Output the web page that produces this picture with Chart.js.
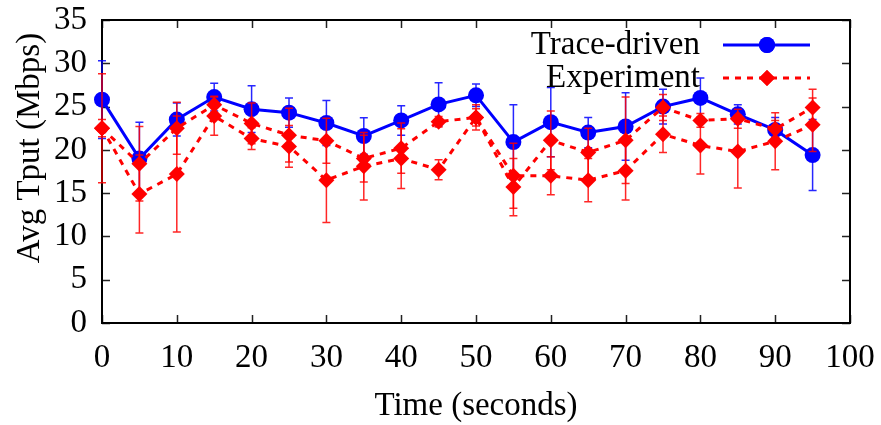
<!DOCTYPE html>
<html>
<head>
<meta charset="utf-8">
<script src="https://cdn.jsdelivr.net/npm/chart.js@4/dist/chart.umd.min.js"></script>
<style>
  html, body { margin: 0; padding: 0; background: #fff; }
  #wrap { width: 881px; height: 425px; }
</style>
</head>
<body>
<div id="wrap"><canvas id="c" width="881" height="425"></canvas></div>
<script>
// Sample times (seconds)
const times = [0, 5, 10, 15, 20, 25, 30, 35, 40, 45, 50, 55, 60, 65, 70, 75, 80, 85, 90, 95];

// Trace-driven throughput (Mbps) and its error half-widths
const traceDriven    = [25.8, 19.0, 23.5, 26.1, 24.7, 24.3, 23.1, 21.6, 23.4, 25.25, 26.3, 20.9, 23.2, 22.0, 22.7, 25.0, 26.0, 24.1, 22.3, 19.4];
const traceDrivenErr = [4.5, 4.2, 1.9, 1.6, 2.7, 1.7, 2.6, 2.1, 1.7, 2.5, 1.3, 4.3, 4.0, 1.75, 3.9, 2.0, 2.3, 1.1, 1.45, 4.1];

// Experiment runs (Mbps) and their error half-widths
const experimentA    = [22.5, 18.4, 22.5, 25.2, 23.05, 21.7, 21.05, 19.0, 20.2, 23.25, 23.75, 17.0, 17.0, 16.5, 17.6, 21.8, 20.5, 19.8, 21.0, 22.9];
const experimentAErr = [6.3, 4.3, 3.0, 1.0, 2.35, 3.1, 2.6, 2.7, 2.9, 0.6, 1.45, 3.75, 2.2, 2.5, 3.4, 2.1, 3.3, 4.2, 3.3, 3.1];
const experimentB    = [22.5, 14.9, 17.2, 23.9, 21.3, 20.4, 16.5, 18.1, 19.0, 17.7, 23.75, 15.7, 21.1, 19.7, 21.1, 24.9, 23.4, 23.6, 22.4, 24.9];
const experimentBErr = [1.0, 4.5, 6.7, 2.2, 1.25, 2.4, 4.9, 3.9, 3.45, 1.15, 1.0, 3.3, 3.4, 2.8, 5.0, 1.5, 0.8, 1.1, 1.0, 2.1];

// Axis ticks
const xTicks = [0, 10, 20, 30, 40, 50, 60, 70, 80, 90, 100];
const yTicks = [0, 5, 10, 15, 20, 25, 30, 35];

const FONT = '"Liberation Serif", "Times New Roman", Times, serif';
const FONT_SIZE = 33;
const BLUE = '#0000ff';
const RED = '#ff0000';

const toPoints = (vals) => vals.map((v, i) => ({ x: times[i], y: v }));

// Inward ticks on all four sides plus the box frame
const framePlugin = {
  id: 'frame',
  beforeDatasetsDraw(chart) {
    const { ctx, chartArea: a, scales: { x, y } } = chart;
    ctx.save();
    ctx.strokeStyle = '#222';
    ctx.lineWidth = 1.5;
    ctx.beginPath();
    xTicks.forEach(v => {
      const px = Math.round(x.getPixelForValue(v)) + 0.5;
      ctx.moveTo(px, a.bottom); ctx.lineTo(px, a.bottom - 8);
      ctx.moveTo(px, a.top); ctx.lineTo(px, a.top + 8);
    });
    yTicks.forEach(v => {
      const py = Math.round(y.getPixelForValue(v)) + 0.5;
      ctx.moveTo(a.left, py); ctx.lineTo(a.left + 8, py);
      ctx.moveTo(a.right, py); ctx.lineTo(a.right - 8, py);
    });
    ctx.stroke();
    ctx.strokeStyle = '#000';
    ctx.lineWidth = 2;
    ctx.strokeRect(a.left, a.top, a.right - a.left, a.bottom - a.top);
    ctx.restore();
  }
};

// Vertical error bars with caps, drawn just beneath each dataset's line
const errorBarPlugin = {
  id: 'errorBars',
  beforeDatasetDraw(chart, args) {
    const ds = chart.data.datasets[args.index];
    if (!ds.errors) return;
    const { ctx, scales: { x, y } } = chart;
    ctx.save();
    ctx.strokeStyle = ds.errorColor;
    ctx.lineWidth = 1.5;
    ctx.beginPath();
    ds.data.forEach((p, i) => {
      const e = ds.errors[i];
      const px = x.getPixelForValue(p.x);
      const top = y.getPixelForValue(p.y + e);
      const bot = y.getPixelForValue(p.y - e);
      ctx.moveTo(px, top); ctx.lineTo(px, bot);
      ctx.moveTo(px - 4, top); ctx.lineTo(px + 4, top);
      ctx.moveTo(px - 4, bot); ctx.lineTo(px + 4, bot);
    });
    ctx.stroke();
    ctx.restore();
  }
};

// Key in the upper right and the rotated y-axis title
const keyPlugin = {
  id: 'key',
  afterDraw(chart) {
    const { ctx } = chart;
    ctx.save();
    ctx.fillStyle = '#000';
    ctx.font = FONT_SIZE + 'px ' + FONT;
    ctx.textAlign = 'right';
    ctx.textBaseline = 'middle';

    const rows = [
      { label: 'Trace-driven', ds: chart.data.datasets[0], y: 45 },
      { label: 'Experiment', ds: chart.data.datasets[1], y: 78 }
    ];
    rows.forEach(r => {
      ctx.fillStyle = '#000';
      ctx.fillText(r.label, 700, r.y);
      ctx.strokeStyle = r.ds.borderColor;
      ctx.lineWidth = r.ds.borderWidth;
      ctx.setLineDash(r.ds.borderDash || []);
      ctx.beginPath();
      ctx.moveTo(723, r.y); ctx.lineTo(810, r.y);
      ctx.stroke();
      ctx.setLineDash([]);
      ctx.fillStyle = r.ds.pointBackgroundColor;
      Chart.helpers.drawPoint(ctx, {
        pointStyle: r.ds.pointStyle, radius: r.ds.pointRadius, rotation: 0, borderWidth: 0
      }, 767, r.y);
      ctx.fill();
    });

    ctx.translate(30, 148);
    ctx.rotate(-Math.PI / 2);
    ctx.textAlign = 'center';
    ctx.fillStyle = '#000';
    ctx.fillText('Avg Tput (Mbps)', 0, 0);
    ctx.restore();
  }
};

new Chart(document.getElementById('c'), {
  type: 'line',
  data: {
    datasets: [
      {
        label: 'Trace-driven',
        data: toPoints(traceDriven),
        errors: traceDrivenErr,
        errorColor: 'rgba(0,0,255,0.85)',
        borderColor: BLUE,
        backgroundColor: BLUE,
        borderWidth: 3,
        pointStyle: 'circle',
        pointRadius: 8,
        pointBackgroundColor: BLUE,
        pointBorderWidth: 0,
        tension: 0,
        clip: false,
        order: 3
      },
      {
        label: 'Experiment',
        data: toPoints(experimentA),
        errors: experimentAErr,
        errorColor: 'rgba(255,0,0,0.85)',
        borderColor: RED,
        backgroundColor: RED,
        borderWidth: 3,
        borderDash: [6, 6],
        pointStyle: 'rectRot',
        pointRadius: 8,
        pointBackgroundColor: RED,
        pointBorderWidth: 0,
        tension: 0,
        clip: false,
        order: 2
      },
      {
        label: 'Experiment (run 2)',
        data: toPoints(experimentB),
        errors: experimentBErr,
        errorColor: 'rgba(255,0,0,0.85)',
        borderColor: RED,
        backgroundColor: RED,
        borderWidth: 3,
        borderDash: [6, 6],
        pointStyle: 'rectRot',
        pointRadius: 8,
        pointBackgroundColor: RED,
        pointBorderWidth: 0,
        tension: 0,
        clip: false,
        order: 1
      }
    ]
  },
  options: {
    responsive: false,
    animation: false,
    events: [],
    layout: { padding: { top: 20, right: 31, left: 0, bottom: 0 } },
    plugins: { legend: { display: false }, tooltip: { enabled: false } },
    scales: {
      x: {
        type: 'linear',
        min: 0, max: 100,
        afterFit: s => { s.height = 102; s.paddingLeft = 0; s.paddingRight = 0; },
        afterBuildTicks: s => { s.ticks = xTicks.map(v => ({ value: v })); },
        grid: { display: false, drawTicks: false },
        border: { display: false },
        ticks: { color: '#000', padding: 16, maxRotation: 0, autoSkip: false,
                 font: { family: FONT, size: FONT_SIZE, lineHeight: 1.2 } },
        title: { display: true, text: 'Time (seconds)', color: '#000',
                 padding: { top: 0, bottom: 2 },
                 font: { family: FONT, size: FONT_SIZE, lineHeight: 1 } }
      },
      y: {
        type: 'linear',
        min: 0, max: 35,
        afterFit: s => { s.width = 102; s.paddingTop = 0; s.paddingBottom = 0; },
        afterBuildTicks: s => { s.ticks = yTicks.map(v => ({ value: v })); },
        grid: { display: false, drawTicks: false },
        border: { display: false },
        ticks: { color: '#000', padding: 15, autoSkip: false,
                 font: { family: FONT, size: FONT_SIZE, lineHeight: 1.2 } }
      }
    }
  },
  plugins: [framePlugin, errorBarPlugin, keyPlugin]
});
</script>
</body>
</html>
